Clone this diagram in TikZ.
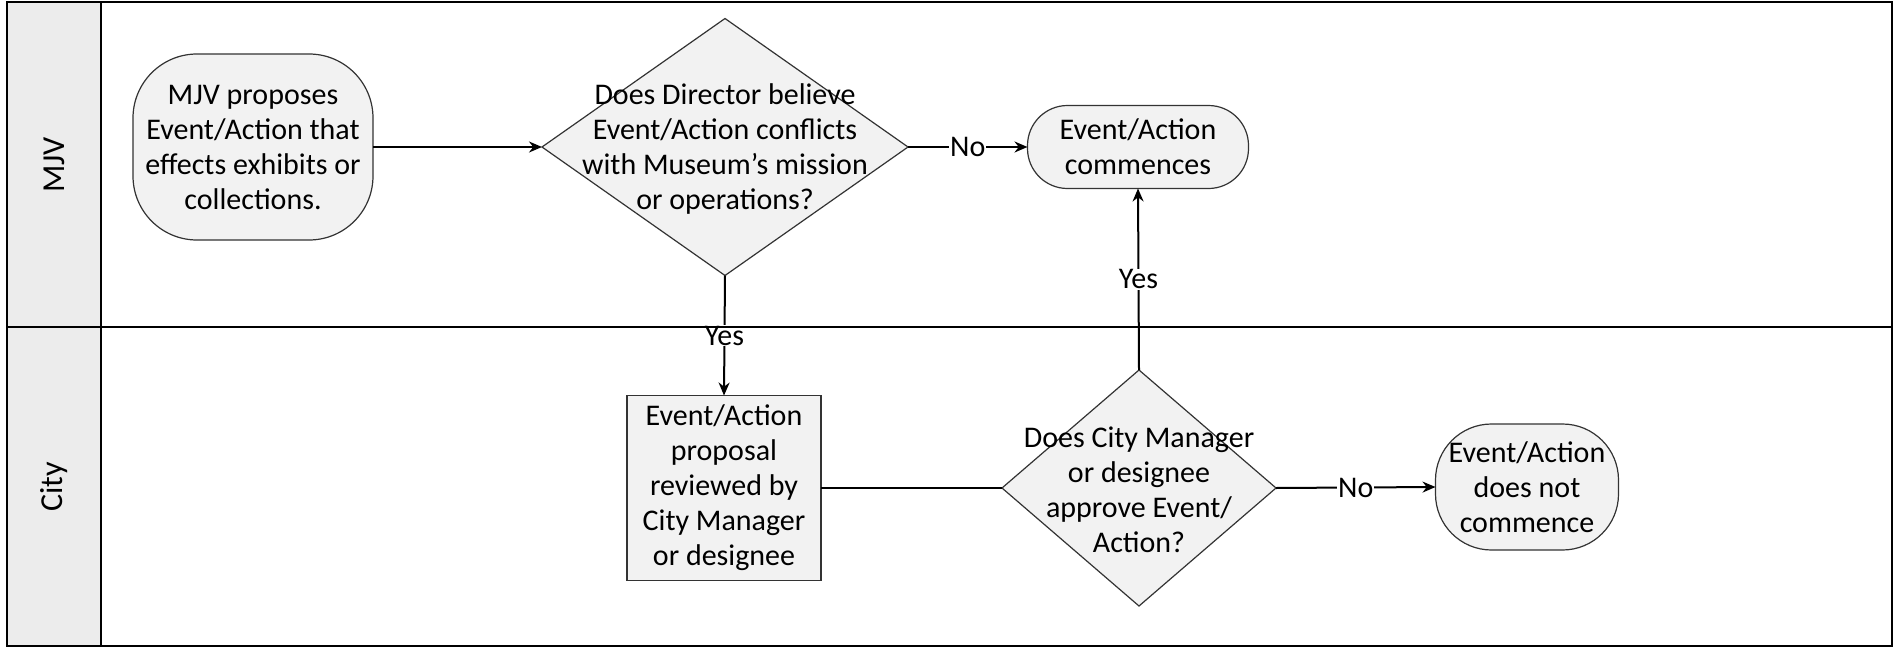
\documentclass[tikz,border=0pt]{standalone}
\usepackage{fontspec}
\setmainfont{Carlito}
\usetikzlibrary{shapes.geometric,arrows.meta}
\begin{document}
\begin{tikzpicture}[x=0.5pt,y=-0.5pt,
  nodetext/.style={font=\fontsize{15}{17.5}\selectfont, align=center, text=black},
  term/.style={draw=black!80, fill=gray!10, line width=0.6pt, rounded corners=#1,
    outer sep=0pt, inner sep=0pt, nodetext},
  dec/.style={draw=black!80, fill=gray!10, diamond, line width=0.6pt, outer sep=0pt, inner sep=0pt},
  procbox/.style={draw=black!80, fill=gray!10, rectangle, line width=0.6pt,
    outer sep=0pt, inner sep=0pt, nodetext},
  conn/.style={line width=1pt, black},
  arr/.style={conn, -{Stealth[length=6.5pt,width=5.5pt]}},
  elabel/.style={fill=white, inner sep=0.5pt, font=\fontsize{15}{17.5}\selectfont},
  lanelab/.style={font=\fontsize{16}{19}\selectfont, rotate=90},
  frameline/.style={line width=1.2pt, black}
]
% canvas and margins
\fill[white] (0,0) rectangle (1896,653);
\useasboundingbox (0,0) rectangle (1896,653);
\fill[gray!15] (7,2) rectangle (101,646);

% lane labels
\node[lanelab] (mjvlab) at (54,165) {MJV};
\node[lanelab] (citylab) at (54,487) {City};

% MJV lane
\node[term=32pt, minimum width=120pt, minimum height=93pt] (start) at (253,147)
  {MJV proposes\\Event/Action that\\effects exhibits or\\collections.};
\node[dec, minimum width=183pt, minimum height=128.5pt] (d1) at (725,147) {};
\node[nodetext] (d1t) at (725,149)
  {Does Director believe\\Event/Action conflicts\\with Museum’s mission\\or operations?};
\node[term=20pt, minimum width=110.5pt, minimum height=41.5pt] (comm) at (1138,147)
  {Event/Action\\commences};

% City lane
\node[procbox, minimum width=97pt, minimum height=92.5pt] (rev) at (724,488)
  {Event/Action\\proposal\\reviewed by\\City Manager\\or designee};
\node[dec, minimum width=137pt, minimum height=118pt] (d2) at (1139,488) {};
\node[nodetext] (d2t) at (1139,490)
  {Does City Manager\\or designee\\approve Event/\\Action?};
\node[term=28pt, minimum width=91.5pt, minimum height=63pt] (nc) at (1527,487)
  {Event/Action\\does not\\commence};

% connectors
\draw[arr] (start.east) -- (d1.west);
\draw[arr] (d1.east) -- node[elabel] (no1) {No} (comm.west);
\draw[arr] (d1.south) -- node[elabel, pos=0.5] (yes1) {Yes} (rev.north);
\draw[conn] (rev.east) -- (d2.west);
\draw[arr] (d2.north) -- node[elabel] (yes2) {Yes} (comm.south);
\draw[arr] (d2.east) -- node[elabel] (no2) {No} (nc.west);

% frame
\draw[frameline] (7,2) rectangle (1892,646);
\draw[frameline] (101,2) -- (101,646);
\draw[frameline] (7,327) -- (1892,327);
\end{tikzpicture}
\end{document}
